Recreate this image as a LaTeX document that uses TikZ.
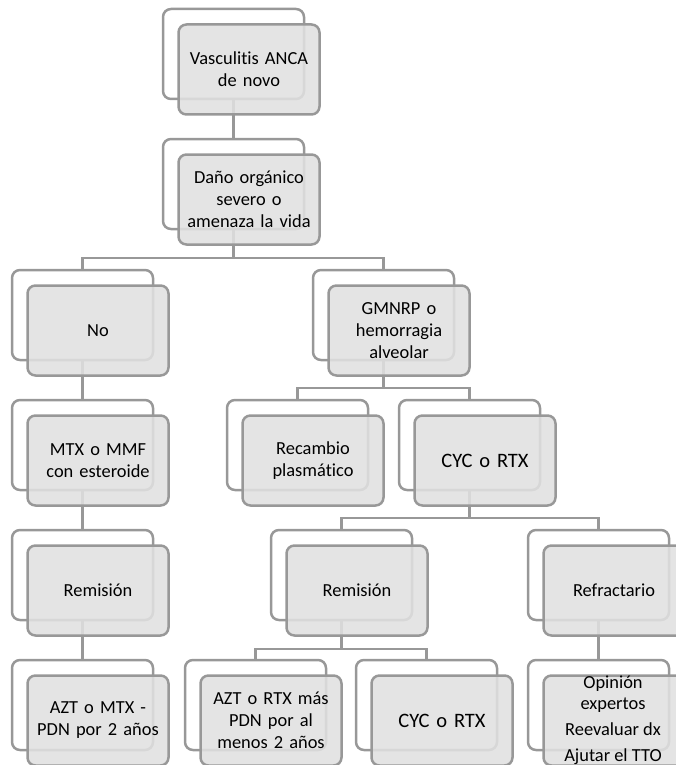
\documentclass[tikz,border=0pt]{standalone}
\usepackage{fontspec}
\setmainfont{Carlito}[Ligatures=NoCommon]
\definecolor{boxline}{RGB}{152,152,152}
\definecolor{boxfill}{RGB}{224,224,224}
\begin{document}
\begin{tikzpicture}[x=1pt,y=-1pt,
  back/.style={draw=boxline, line width=2.5pt, rounded corners=8pt,
    minimum width=141pt, minimum height=90pt, inner sep=0pt, outer sep=0pt, anchor=north west},
  front/.style={draw=boxline, line width=2.5pt, rounded corners=8pt,
    minimum width=141pt, minimum height=90pt, inner sep=2pt, outer sep=0pt, anchor=north west,
    fill=boxfill, fill opacity=0.88, text opacity=1, align=center, text width=134pt,
    font=\fontsize{18.4}{22}\selectfont},
  big/.style={font=\fontsize{20.5}{24}\selectfont},
  conn/.style={draw=boxline, line width=2.5pt}]
\clip (0,0) rectangle (676,765);
\useasboundingbox (0,0) rectangle (676,765);
% back outlines
\node[back] (A) at (163,9) {};
\node[back] (B) at (163,139) {};
\node[back] (C) at (12,270) {};
\node[back] (D) at (313,270) {};
\node[back] (E) at (12,400) {};
\node[back] (F) at (227,400) {};
\node[back] (G) at (399,400) {};
\node[back] (H) at (12,530) {};
\node[back] (I) at (271,530) {};
\node[back] (J) at (528,530) {};
\node[back] (K) at (12,660) {};
\node[back] (L) at (185,660) {};
\node[back] (M) at (356,660) {};
\node[back] (N) at (528,660) {};
% connectors
\draw[conn] (A.south) -- (B.north);
\draw[conn] (B.south) -- ++(0,29);
\draw[conn] (C.north) -- ++(0,-12) -| (D.north);
\draw[conn] (C.south) -- (E.north);
\draw[conn] (D.south) -- ++(0,28);
\draw[conn] (F.north) -- ++(0,-12) -| (G.north);
\draw[conn] (E.south) -- (H.north);
\draw[conn] (G.south) -- ++(0,28);
\draw[conn] (I.north) -- ++(0,-12) -| (J.north);
\draw[conn] (H.south) -- (K.north);
\draw[conn] (I.south) -- ++(0,29);
\draw[conn] (L.north) -- ++(0,-11) -| (M.north);
\draw[conn] (J.south) -- (N.north);
% front boxes
\node[front] (A2) at ([shift={(15.5,15.5)}]A.north west) {Vasculitis ANCA\\de novo};
\node[front] (B2) at ([shift={(15.5,15.5)}]B.north west) {Daño orgánico\\severo o\\amenaza la vida};
\node[front] (C2) at ([shift={(15.5,15.5)}]C.north west) {No};
\node[front] (D2) at ([shift={(15.5,15.5)}]D.north west) {GMNRP o\\hemorragia\\alveolar};
\node[front] (E2) at ([shift={(15.5,15.5)}]E.north west) {MTX o MMF\\con esteroide};
\node[front] (F2) at ([shift={(15.5,15.5)}]F.north west) {Recambio\\plasmático};
\node[front,big] (G2) at ([shift={(15.5,15.5)}]G.north west) {CYC o RTX};
\node[front] (H2) at ([shift={(15.5,15.5)}]H.north west) {Remisión};
\node[front] (I2) at ([shift={(15.5,15.5)}]I.north west) {Remisión};
\node[front] (J2) at ([shift={(15.5,15.5)}]J.north west) {Refractario};
\node[front] (K2) at ([shift={(15.5,15.5)}]K.north west) {AZT o MTX -\\PDN por 2 años};
\node[front] (L2) at ([shift={(15.5,15.5)}]L.north west) {AZT o RTX más\\PDN por al\\menos 2 años};
\node[front,big] (M2) at ([shift={(15.5,15.5)}]M.north west) {CYC o RTX};
\node[front] (N2) at ([shift={(15.5,15.5)}]N.north west) {};
\node[align=center, inner sep=0pt, font=\fontsize{18.4}{21}\selectfont] (Ntext) at ([xshift=-1pt]N2.center)
  {Opinión\\expertos\\[5pt]Reevaluar dx\\[5pt]Ajutar el TTO};
\end{tikzpicture}
\end{document}
